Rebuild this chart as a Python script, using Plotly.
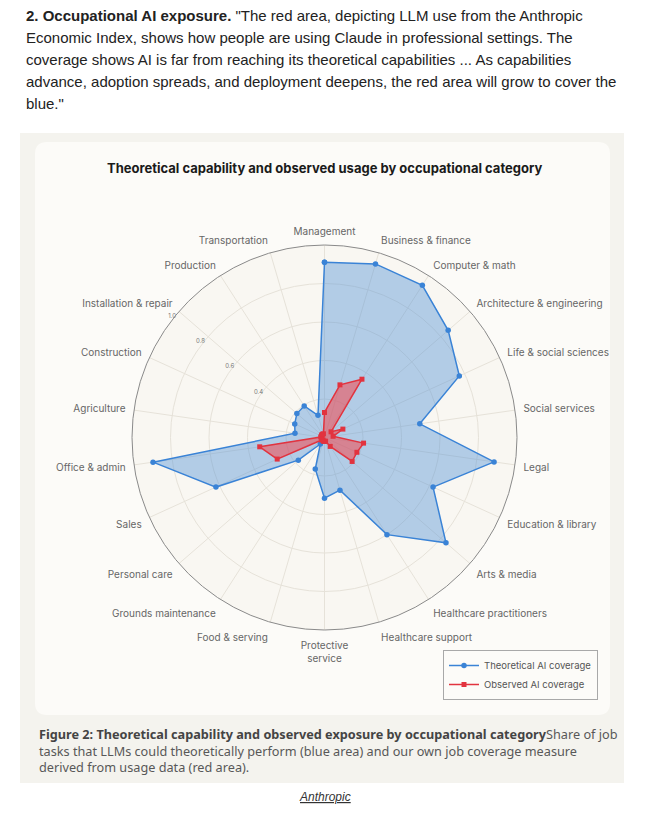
import plotly.graph_objects as go

W, H = 654, 817

categories = [
    "Management", "Business & finance", "Computer & math", "Architecture & engineering",
    "Life & social sciences", "Social services", "Legal", "Education & library",
    "Arts & media", "Healthcare practitioners", "Healthcare support", "Protective<br>service",
    "Food & serving", "Grounds maintenance", "Personal care", "Sales", "Office & admin",
    "Agriculture", "Construction", "Installation & repair", "Production", "Transportation",
]
theoretical = [0.91, 0.94, 0.94, 0.85, 0.77, 0.50, 0.89, 0.62, 0.835, 0.60, 0.285,
               0.315, 0.17, 0.04, 0.18, 0.62, 0.90, 0.155, 0.17, 0.19, 0.195, 0.12]
observed = [0.13, 0.285, 0.36, 0.045, 0.105, 0.045, 0.205, 0.185, 0.19, 0.055, 0.02,
            0.02, 0.02, 0.015, 0.02, 0.27, 0.34, 0.02, 0.015, 0.02, 0.02, 0.02]
radial_ticks = [0.2, 0.4, 0.6, 0.8, 1.0]
radial_ticktext = ["", "0.4", "0.6", "0.8", "1.0"]

paragraph = [
    "<b>2. Occupational AI exposure.</b> \"The red area, depicting LLM use from the Anthropic",
    "Economic Index, shows how people are using Claude in professional settings. The",
    "coverage shows AI is far from reaching its theoretical capabilities ... As capabilities",
    "advance, adoption spreads, and deployment deepens, the red area will grow to cover the",
    "blue.\"",
]
caption = [
    "<b><span style='color:#444'>Figure 2: Theoretical capability and observed exposure by occupational category</span></b>Share of job",
    "tasks that LLMs could theoretically perform (blue area) and our own job coverage measure",
    "derived from usage data (red area).",
]


def px(x):
    return x / W


def py(y):
    return 1 - y / H


theta_closed = categories + categories[:1]
fig = go.Figure()
series = [
    ("Theoretical AI coverage", theoretical, "#3a83d6", "rgba(82,146,214,0.42)", "circle", 5.5),
    ("Observed AI coverage", observed, "#e2333f", "rgba(240,78,84,0.58)", "square", 5),
]
for name, vals, lc, fc, sym, ms in series:
    r_closed = vals + vals[:1]
    fig.add_trace(go.Scatterpolar(
        r=r_closed, theta=theta_closed, mode="none", fill="toself",
        fillcolor=fc, showlegend=False, hoverinfo="skip",
    ))
    fig.add_trace(go.Scatterpolar(
        r=r_closed, theta=theta_closed, mode="lines+markers", name=name,
        line=dict(color=lc, width=1.5),
        marker=dict(color=lc, size=ms, symbol=sym),
    ))

cx, cy, R = 324.5, 437.5, 192.5
fig.update_layout(
    width=W, height=H,
    margin=dict(l=0, r=0, t=0, b=0),
    paper_bgcolor="white",
    showlegend=True,
    legend=dict(
        x=px(443), y=py(650), xanchor="left", yanchor="top",
        bgcolor="#fcfbf8", bordercolor="#a8a8a8", borderwidth=1,
        font=dict(family="Inter", size=9.5, color="#555"),
        itemwidth=30, tracegroupgap=0,
    ),
    polar=dict(
        domain=dict(x=[px(cx - R), px(cx + R)], y=[py(cy + R), py(cy - R)]),
        bgcolor="#f9f7f2",
        angularaxis=dict(
            rotation=90, direction="clockwise", type="category",
            showline=True, linecolor="#8a8a8a", linewidth=1,
            gridcolor="#e6e2d9", gridwidth=1,
            ticks="outside", ticklen=6, tickcolor="rgba(0,0,0,0)",
            tickfont=dict(family="Inter", size=10, color="#666"),
        ),
        radialaxis=dict(
            range=[0, 1], angle=139.09, showline=False, side="counterclockwise",
            tickvals=radial_ticks, ticktext=radial_ticktext,
            gridcolor="#e6e2d9", gridwidth=1, ticks="",
            tickfont=dict(family="Inter", size=6, color="#777"),
            tickangle=139.09,
        ),
    ),
    shapes=[
        dict(type="rect", xref="paper", yref="paper", x0=px(20), x1=px(624), y0=py(783), y1=py(133),
             fillcolor="#f4f3ee", line=dict(width=0), layer="below"),
        dict(type="path", xref="paper", yref="paper",
             path=("M {a},{b} L {c},{b} Q {d},{b} {d},{e} L {d},{f} Q {d},{g} {c},{g} "
                   "L {a},{g} Q {h},{g} {h},{f} L {h},{e} Q {h},{b} {a},{b} Z").format(
                 a=px(47), c=px(598), d=px(610), h=px(35),
                 b=py(142), e=py(154), f=py(703), g=py(715)),
             fillcolor="#fcfbf8", line=dict(width=0), layer="below"),
    ],
)

ann = []
for i, t in enumerate(paragraph):
    ann.append(dict(text=t, x=px(24), y=py(15 + 22 * i), xref="paper", yref="paper",
                    xanchor="left", yanchor="middle", showarrow=False,
                    font=dict(family="Liberation Sans", size=15, color="#222")))
ann.append(dict(text="<b>Theoretical capability and observed usage by occupational category</b>",
                x=px(324.5), y=py(168), xref="paper", yref="paper", xanchor="center", yanchor="middle",
                showarrow=False, font=dict(family="Inter", size=13, color="#1a1a1a")))
ann.append(dict(text="<br>".join(caption), x=px(37), y=py(750), xref="paper", yref="paper",
                xanchor="left", yanchor="middle", align="left", showarrow=False,
                font=dict(family="Noto Sans", size=12.7, color="#585858")))
ann.append(dict(text="<i><u>Anthropic</u></i>", x=px(324.5), y=py(797), xref="paper", yref="paper",
                xanchor="center", yanchor="middle", showarrow=False,
                font=dict(family="Liberation Sans", size=12, color="#333")))
fig.update_layout(annotations=ann)

fig.write_html("out.html", config={"displayModeBar": False},
               post_script="document.body.style.margin='0';")
